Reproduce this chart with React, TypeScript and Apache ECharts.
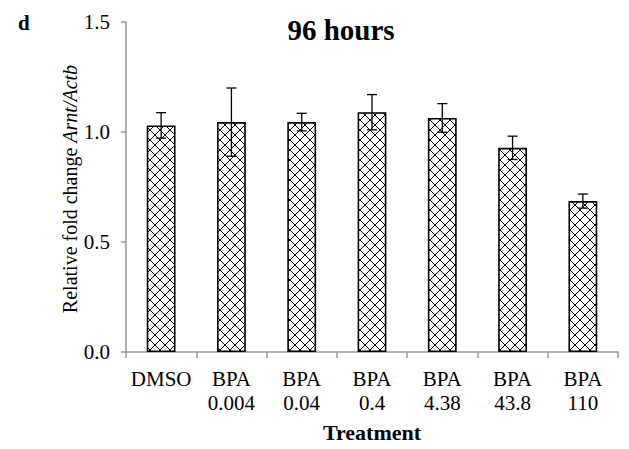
import React, { useEffect, useRef } from "react";
import * as echarts from "echarts";

const categories = ["DMSO", "BPA\n0.004", "BPA\n0.04", "BPA\n0.4", "BPA\n4.38", "BPA\n43.8", "BPA\n110"];
const means = [1.03, 1.045, 1.045, 1.09, 1.064, 0.928, 0.686];
const errors = [0.058, 0.155, 0.04, 0.08, 0.065, 0.053, 0.032];
const yTicks = [0, 0.5, 1.0, 1.5];

function makePattern(): string {
  const c = document.createElement("canvas");
  const s = 10;
  c.width = s;
  c.height = s;
  const ctx = c.getContext("2d")!;
  ctx.fillStyle = "#ffffff";
  ctx.fillRect(0, 0, s, s);
  ctx.fillStyle = "#000000";
  for (let i = 0; i < s; i++) {
    ctx.fillRect(i, i, 1, 1);
    ctx.fillRect(s - 1 - i, i, 1, 1);
  }
  return c.toDataURL();
}

export default function App() {
  const ref = useRef<HTMLDivElement>(null);
  useEffect(() => {
    const chart = echarts.init(ref.current!, null, { renderer: "svg" });
    const pat = makePattern();
    const font = "'Liberation Serif', 'Times New Roman', serif";
    chart.setOption({
      animation: false,
      backgroundColor: "#ffffff",
      textStyle: { fontFamily: font },
      grid: { left: 126, right: 11, top: 22, bottom: 97 },
      title: {
        text: "96 hours",
        left: 336,
        top: 10,
        textAlign: "center",
        textStyle: { fontFamily: font, fontSize: 29, fontWeight: "bold", color: "#000" },
      },
      graphic: [
        {
          type: "text",
          left: 18,
          top: 12,
          style: { text: "d", font: `bold 21px ${font}`, fill: "#000" },
        },
        {
          type: "text",
          x: 70,
          y: 189,
          rotation: Math.PI / 2,
          style: {
            text: "{n|Relative fold change }{i|Arnt/Actb}",
            align: "center",
            verticalAlign: "middle",
            rich: {
              n: { fontFamily: font, fontSize: 20, fill: "#000" },
              i: { fontFamily: font, fontSize: 20, fontStyle: "italic", fill: "#000" },
            },
          },
        },
      ],
      xAxis: {
        type: "category",
        data: categories,
        name: "Treatment",
        nameLocation: "middle",
        nameGap: 69,
        nameTextStyle: { fontFamily: font, fontSize: 22, fontWeight: "bold", color: "#000" },
        axisLine: { lineStyle: { color: "#999", width: 1.5 } },
        axisTick: { show: true, length: 6, lineStyle: { color: "#999", width: 1.5 } },
        axisLabel: { interval: 0, fontFamily: font, fontSize: 21, color: "#000", margin: 15, lineHeight: 24 },
      },
      yAxis: {
        type: "value",
        min: 0,
        max: 1.5,
        interval: 0.5,
        splitLine: { show: false },
        axisLine: { show: true, lineStyle: { color: "#999", width: 1.5 } },
        axisTick: { show: true, length: 5, lineStyle: { color: "#999", width: 1.5 } },
        axisLabel: {
          fontFamily: font,
          fontSize: 21,
          color: "#000",
          margin: 16,
          formatter: (v: number) => (yTicks.includes(v) ? v.toFixed(1) : ""),
        },
      },
      series: [
        {
          type: "bar",
          data: means,
          barWidth: "41%",
          itemStyle: {
            color: { image: pat, repeat: "repeat" },
            borderColor: "#000",
            borderWidth: 1.6,
          },
        },
        {
          type: "custom",
          data: means.map((m, i) => [i, m - errors[i], m + errors[i]]),
          renderItem: (params: any, api: any) => {
            const x = api.value(0);
            const lo = api.coord([x, api.value(1)]);
            const hi = api.coord([x, api.value(2)]);
            const hw = 5;
            const st = { stroke: "#000", lineWidth: 1.3 };
            return {
              type: "group",
              children: [
                { type: "line", shape: { x1: lo[0], y1: lo[1], x2: hi[0], y2: hi[1] }, style: st },
                { type: "line", shape: { x1: hi[0] - hw, y1: hi[1], x2: hi[0] + hw, y2: hi[1] }, style: st },
                { type: "line", shape: { x1: lo[0] - hw, y1: lo[1], x2: lo[0] + hw, y2: lo[1] }, style: st },
              ],
            };
          },
          z: 10,
        },
      ],
    });
    return () => chart.dispose();
  }, []);
  return <div ref={ref} style={{ width: 629, height: 449, position: "absolute", left: 0, top: 0 }} />;
}
